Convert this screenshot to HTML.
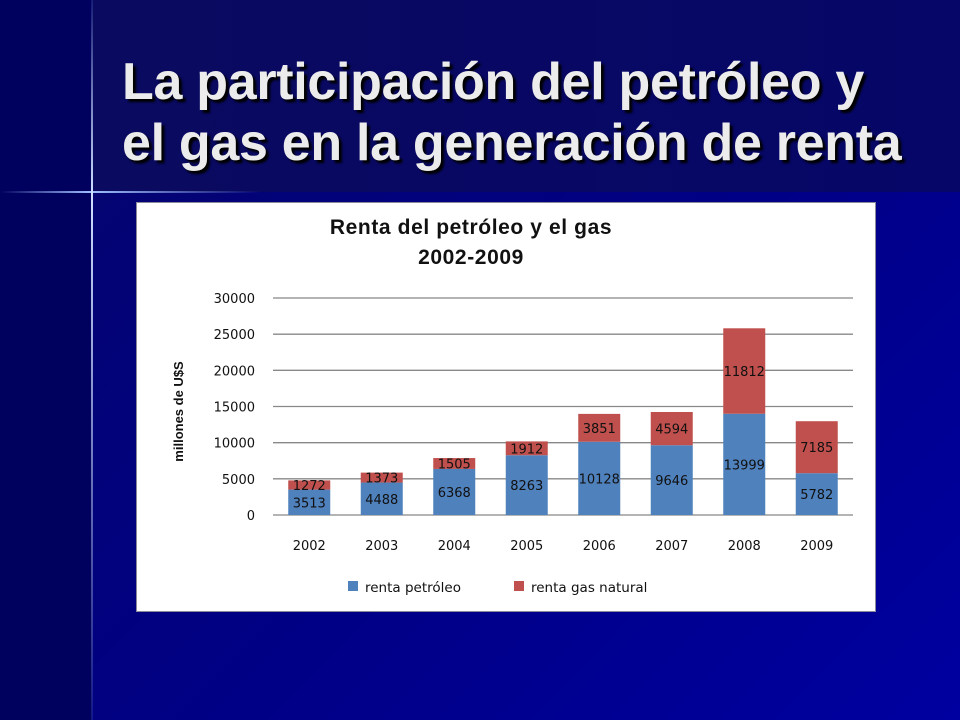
<!DOCTYPE html>
<html><head><meta charset="utf-8"><style>
body{margin:0;width:960px;height:720px;overflow:hidden;font-family:"Liberation Sans",sans-serif;
background:linear-gradient(135deg,#05056a 0%,#000088 60%,#0000a0 100%);position:relative}
#left{position:absolute;left:0;top:0;width:92px;height:720px;background:#00005e}
#topband{position:absolute;left:92px;top:0;width:868px;height:192px;background:linear-gradient(90deg,#0a0a60,#060668)}
#title{position:absolute;left:122px;top:52px;color:#ececec;font-weight:bold;font-size:52px;line-height:61px;text-shadow:3px 3px 2px #000;letter-spacing:-0.3px}
#chart{position:absolute;left:136px;top:202px;width:738px;height:408px;background:#fff;border:1px solid #8a8a9a}
</style></head><body>
<div id="left"></div>
<div id="topband"></div>
<div style="position:absolute;left:0;top:191px;width:260px;height:2px;background:linear-gradient(90deg,rgba(120,160,255,0),#9fc0ff 35%,rgba(120,160,255,0))"></div>
<div style="position:absolute;left:91px;top:0;width:2px;height:720px;background:linear-gradient(180deg,rgba(120,160,255,.15),#cfe0ff 27%,rgba(120,160,255,.15))"></div>
<div id="title">La participación del petróleo y<br>el gas en la generación de renta</div>
<div id="chart">
<svg id="svg" width="738" height="408"></svg>
</div>
<script>
const categories=["2002","2003","2004","2005","2006","2007","2008","2009"];
const petroleo=[3513,4488,6368,8263,10128,9646,13999,5782];
const gas=[1272,1373,1505,1912,3851,4594,11812,7185];
const ticks=[0,5000,10000,15000,20000,25000,30000];
const NS="http://www.w3.org/2000/svg";
const svg=document.getElementById('svg');
const X0=136,Y0=202;
const plotL=272-X0,plotR=852-X0,yTop=297-Y0,yBot=514-Y0,maxV=30000;
const y=v=>yBot-(v/maxV)*(yBot-yTop);
const band=(plotR-plotL)/categories.length;
const xc=i=>plotL+band*(i+0.5);
const bw=42;
function mk(t,a){const e=document.createElementNS(NS,t);for(const k in a)e.setAttribute(k,a[k]);svg.appendChild(e);return e;}
const FONT='"Liberation Sans",sans-serif';
const NF='"DejaVu Sans",sans-serif';
let t=mk('text',{x:334,y:31,'font-size':21,'font-weight':'bold','text-anchor':'middle','font-family':FONT,fill:'#111','letter-spacing':'0.6'});t.textContent='Renta del petróleo y el gas';


t=mk('text',{x:334,y:61,'font-size':21,'font-weight':'bold','text-anchor':'middle','font-family':FONT,fill:'#111','letter-spacing':'0.6'});t.textContent='2002-2009';


ticks.forEach(v=>{
 const l=mk('line',{x1:plotL,x2:plotR,y1:y(v),y2:y(v),stroke:'#888','stroke-width':1.3});
 
 
 const tx=mk('text',{x:118,y:y(v)+5,'font-size':13,'text-anchor':'end','font-family':NF,fill:'#111'});tx.textContent=v;
 
 
});
t=mk('text',{x:0,y:0,'font-size':13,'font-weight':'bold','text-anchor':'middle','font-family':FONT,fill:'#111',transform:'translate(46,'+((yTop+yBot)/2+5)+') rotate(-90)'});t.textContent='millones de U$S';


categories.forEach((c,i)=>{
 const p=petroleo[i],g=gas[i];
 const r1=mk('rect',{x:xc(i)-bw/2,y:y(p),width:bw,height:y(0)-y(p),fill:'#4f81bd'});
 
 
 const r2=mk('rect',{x:xc(i)-bw/2,y:y(p+g),width:bw,height:y(p)-y(p+g),fill:'#c0504d'});
 
 
 const l1=mk('text',{x:xc(i),y:(y(0)+y(p))/2+5,'font-size':13,'text-anchor':'middle','font-family':NF,fill:'#111'});l1.textContent=p;
 
 
 const l2=mk('text',{x:xc(i),y:(y(p)+y(p+g))/2+5,'font-size':13,'text-anchor':'middle','font-family':NF,fill:'#111'});l2.textContent=g;
 
 
 const xl=mk('text',{x:xc(i),y:yBot+35,'font-size':13,'text-anchor':'middle','font-family':NF,fill:'#111'});xl.textContent=c;
 
 
});
let s=mk('rect',{x:347-X0,y:580-Y0,width:10,height:10,fill:'#4f81bd'});


t=mk('text',{x:364-X0,y:591-Y0,'font-size':13.5,'font-family':NF,fill:'#111'});t.textContent='renta petróleo';


s=mk('rect',{x:513-X0,y:580-Y0,width:10,height:10,fill:'#c0504d'});


t=mk('text',{x:530-X0,y:591-Y0,'font-size':13.5,'font-family':NF,fill:'#111'});t.textContent='renta gas natural';


</script>
</body></html>
